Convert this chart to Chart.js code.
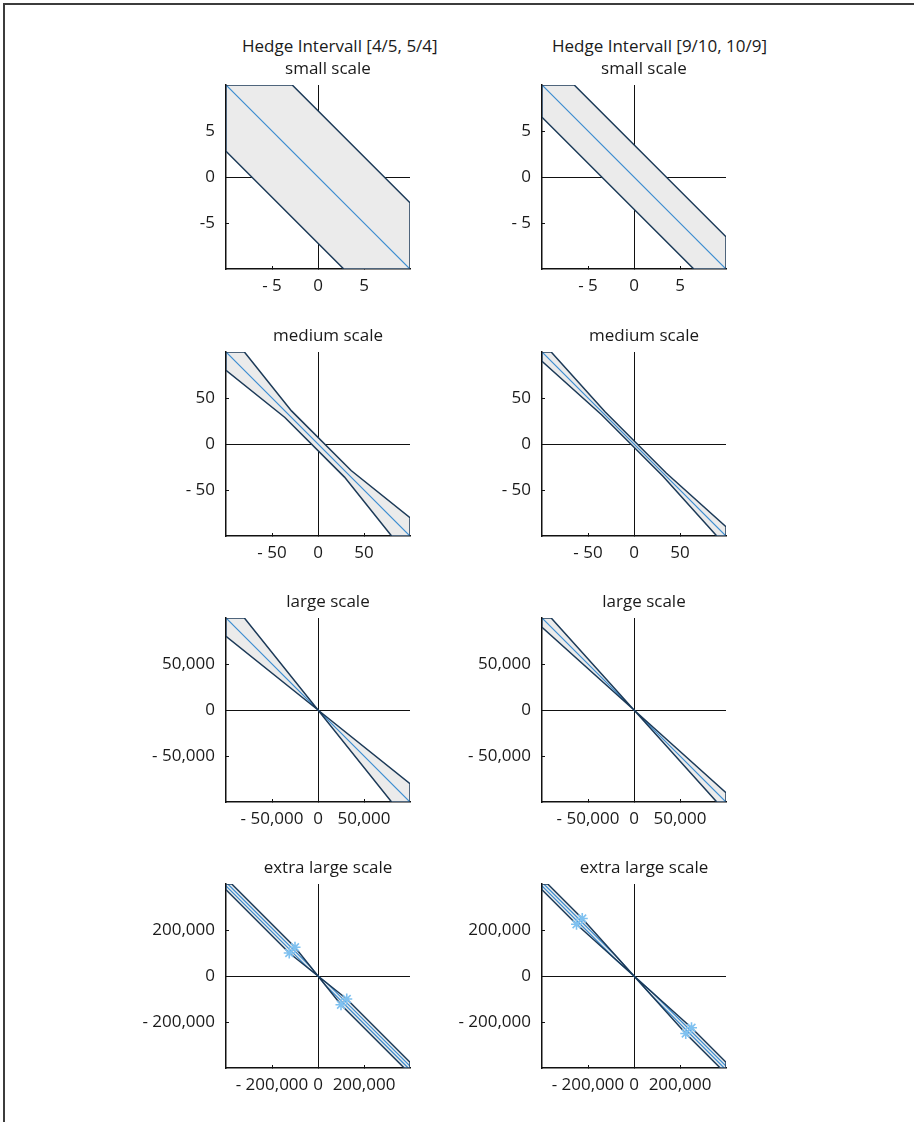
<!DOCTYPE html>
<html>
<head>
<meta charset="utf-8">
<script src="https://cdn.jsdelivr.net/npm/chart.js@4.4.1/dist/chart.umd.min.js"></script>
<style>
  html, body { margin: 0; padding: 0; background: #fff; }
  body { width: 914px; height: 1122px; position: relative; overflow: hidden;
         font-family: "Open Sans", sans-serif; color: #1a1a1a; }
  .frame { position: absolute; left: 3px; top: 3px; width: 960px; height: 1160px;
           border-top: 2px solid #3c3c3c; border-left: 2px solid #3c3c3c; }
  .panel { position: absolute; }
  .txt { position: absolute; font-size: 17px; line-height: 17px; white-space: nowrap; }
  .center { transform: translateX(-50%); }
</style>
</head>
<body>
<div class="frame"></div>
<div id="root"></div>
<script>
// ---- chart content ----------------------------------------------------
const intervalTitles = ['Hedge Intervall [4/5, 5/4]', 'Hedge Intervall [9/10, 10/9]'];
const scaleNames = ['small scale', 'medium scale', 'large scale', 'extra large scale'];
const axisLimits = [10, 100, 100000, 400000];
const tickValues = [[-5, 0, 5], [-50, 0, 50], [-50000, 0, 50000], [-200000, 0, 200000]];
const xTickLabels = [['- 5', '0', '5'], ['- 50', '0', '50'], ['- 50,000', '0', '50,000'], ['- 200,000', '0', '200,000']];
const yTickLabelsLeft = [['-5', '0', '5'], ['- 50', '0', '50'], ['- 50,000', '0', '50,000'], ['- 200,000', '0', '200,000']];
const yTickLabelsRight = [['- 5', '0', '5'], ['- 50', '0', '50'], ['- 50,000', '0', '50,000'], ['- 200,000', '0', '200,000']];

// effective regions, [x, y] vertices of the closed outline
const regionSmall45 = [[-10, 10], [-2.8, 10], [10, -2.8], [10, -10], [2.8, -10], [-10, 2.8], [-10, 10]];
const regionSmall910 = [[-10, 10], [-6.5, 10], [10, -6.5], [10, -10], [6.5, -10], [-10, 6.5], [-10, 10]];
const regionMedium45 = [[-100, 100], [-80, 100], [-28.8, 36], [36, -28.8], [100, -80], [100, -100],
  [80, -100], [28.8, -36], [-36, 28.8], [-100, 80], [-100, 100]];
const regionMedium910 = [[-100, 100], [-90, 100], [-31.5, 35], [35, -31.5], [100, -90], [100, -100],
  [90, -100], [31.5, -35], [-35, 31.5], [-100, 90], [-100, 100]];
const regionLarge45 = [[-100000, 100000], [-80000, 100000], [0, 0], [100000, -80000], [100000, -100000],
  [80000, -100000], [0, 0], [-100000, 80000], [-100000, 100000]];
const regionLarge910 = [[-100000, 100000], [-90000, 100000], [0, 0], [100000, -90000], [100000, -100000],
  [90000, -100000], [0, 0], [-100000, 90000], [-100000, 100000]];
const regionXL45 = [[-400000, 400000], [-375000, 400000], [-100000, 125000], [0, 0], [125000, -100000],
  [400000, -375000], [400000, -400000], [375000, -400000], [100000, -125000], [0, 0],
  [-125000, 100000], [-400000, 375000], [-400000, 400000]];
const regionXL910 = [[-400000, 400000], [-375000, 400000], [-225000, 250000], [0, 0], [250000, -225000],
  [400000, -375000], [400000, -400000], [375000, -400000], [225000, -250000], [0, 0],
  [-250000, 225000], [-400000, 375000], [-400000, 400000]];

// perfect hedge lines
const hedgeSmall = [[-10, 10], [10, -10]];
const hedgeMedium = [[-100, 100], [100, -100]];
const hedgeLarge = [[-100000, 100000], [100000, -100000]];
const hedgeXL45Upper = [[-392000, 400000], [-32000, 40000], [0, 0], [40000, -32000], [400000, -392000]];
const hedgeXL45Lower = [[-400000, 392000], [-40000, 32000], [0, 0], [32000, -40000], [392000, -400000]];
const hedgeXL910Upper = [[-392000, 400000], [-72000, 80000], [0, 0], [80000, -72000], [400000, -392000]];
const hedgeXL910Lower = [[-400000, 392000], [-80000, 72000], [0, 0], [72000, -80000], [392000, -400000]];

// corner points where the absolute band meets the ratio wedge
const cornersXL45 = [[-100000, 125000], [-125000, 100000], [100000, -125000], [125000, -100000]];
const cornersXL910 = [[-225000, 250000], [-250000, 225000], [225000, -250000], [250000, -225000]];

const regions = [[regionSmall45, regionSmall910], [regionMedium45, regionMedium910],
                 [regionLarge45, regionLarge910], [regionXL45, regionXL910]];
const hedgeLines = [[[hedgeSmall], [hedgeSmall]], [[hedgeMedium], [hedgeMedium]],
                    [[hedgeLarge], [hedgeLarge]], [[hedgeXL45Upper, hedgeXL45Lower], [hedgeXL910Upper, hedgeXL910Lower]]];
const cornerPoints = [[[], []], [[], []], [[], []], [cornersXL45, cornersXL910]];

// ---- layout & style ---------------------------------------------------
const plotLefts = [226, 542];
const plotTops = [85, 352, 618, 884];
const PLOT = 184;
const AXIS_W = 110, AXIS_H = 40, PAD_T = 8, PAD_R = 12;
const titleLefts = [242, 552];
const FONT = '"Open Sans", sans-serif';
const COL_FILL = '#ebebeb';
const COL_EDGE = '#1c3a58';
const COL_HEDGE = '#3a8cd0';
const COL_MARK = '#7fc1f0';
const COL_AXIS = '#111111';

const toXY = arr => arr.map(p => ({ x: p[0], y: p[1] }));
const root = document.getElementById('root');

function addText(text, left, top, centered) {
  const d = document.createElement('div');
  d.className = 'txt' + (centered ? ' center' : '');
  d.style.left = left + 'px';
  d.style.top = top + 'px';
  d.textContent = text;
  root.appendChild(d);
}

function axisOptions(limit, ticks, labels, isX) {
  return {
    type: 'linear',
    min: -limit,
    max: limit,
    z: 1,
    afterBuildTicks: s => { s.ticks = ticks.map(v => ({ value: v })); },
    afterFit: s => {
      if (isX) s.height = AXIS_H; else s.width = AXIS_W;
      s.paddingTop = 0; s.paddingBottom = 0; s.paddingLeft = 0; s.paddingRight = 0;
    },
    border: { display: true, color: COL_AXIS, width: 1.5 },
    grid: {
      drawOnChartArea: true,
      drawTicks: true,
      tickLength: -3,
      lineWidth: 1,
      color: c => (c.tick && c.tick.value === 0) ? COL_AXIS : 'rgba(0,0,0,0)',
      tickColor: COL_AXIS
    },
    ticks: {
      autoSkip: false,
      maxRotation: 0,
      minRotation: 0,
      padding: isX ? 10 : 14,
      color: '#1a1a1a',
      font: { family: FONT, size: 17 },
      callback: (v, i) => labels[i]
    }
  };
}

function buildPanel(row, col) {
  const limit = axisLimits[row];
  const pl = plotLefts[col], pt = plotTops[row];
  const holder = document.createElement('div');
  holder.className = 'panel';
  const w = AXIS_W + PLOT + PAD_R, h = PAD_T + PLOT + AXIS_H;
  holder.style.left = (pl - AXIS_W) + 'px';
  holder.style.top = (pt - PAD_T) + 'px';
  holder.style.width = w + 'px';
  holder.style.height = h + 'px';
  const cv = document.createElement('canvas');
  cv.width = w; cv.height = h;
  cv.style.width = w + 'px'; cv.style.height = h + 'px';
  holder.appendChild(cv);
  root.appendChild(holder);

  const region = toXY(regions[row][col]);
  const datasets = [
    { data: region, showLine: true, fill: 'shape', backgroundColor: COL_FILL,
      borderWidth: 0, borderColor: 'rgba(0,0,0,0)', pointRadius: 0, order: 5 },
    { data: region, showLine: true, fill: false, borderColor: COL_EDGE,
      borderWidth: 1.5, pointRadius: 0, order: 2 }
  ];
  hedgeLines[row][col].forEach(line => {
    datasets.push({ data: toXY(line), showLine: true, fill: false, borderColor: COL_HEDGE,
      borderWidth: 1.2, pointRadius: 0, order: 3 });
  });
  if (cornerPoints[row][col].length) {
    datasets.push({ data: toXY(cornerPoints[row][col]), showLine: false, pointStyle: 'star',
      pointRadius: 5.5, borderColor: COL_MARK, borderWidth: 1.6, backgroundColor: COL_MARK, order: 1 });
  }

  const yLabels = col === 0 ? yTickLabelsLeft[row] : yTickLabelsRight[row];
  new Chart(cv, {
    type: 'scatter',
    data: { datasets },
    options: {
      responsive: false,
      animation: false,
      devicePixelRatio: 1,
      layout: { padding: { left: 0, top: PAD_T, right: PAD_R, bottom: 0 } },
      elements: { line: { tension: 0 } },
      plugins: { legend: { display: false }, tooltip: { enabled: false }, title: { display: false } },
      scales: {
        x: axisOptions(limit, tickValues[row], xTickLabels[row], true),
        y: axisOptions(limit, tickValues[row], yLabels, false)
      }
    }
  });

  // panel heading
  addText(scaleNames[row], pl + PLOT / 2 + 10, pt - 25.6, true);
}

function drawAll() {
  intervalTitles.forEach((t, c) => addText(t, titleLefts[c], 37.4, false));
  for (let r = 0; r < scaleNames.length; r++) {
    for (let c = 0; c < intervalTitles.length; c++) buildPanel(r, c);
  }
}

(document.fonts && document.fonts.load ? document.fonts.load('17px "Open Sans"') : Promise.resolve())
  .then(drawAll, drawAll);
</script>
</body>
</html>
